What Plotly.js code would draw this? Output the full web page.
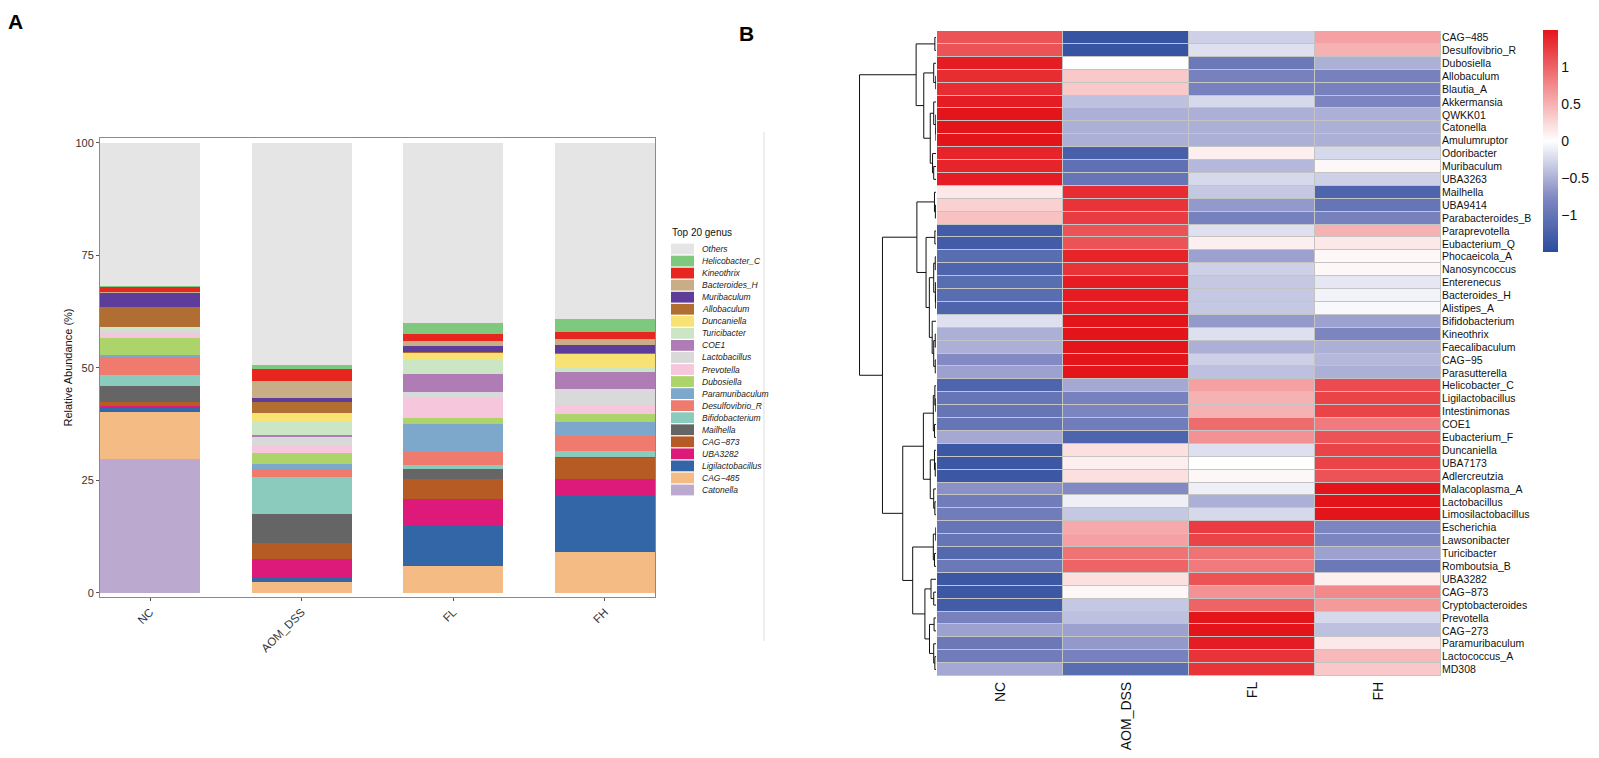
<!DOCTYPE html>
<html><head><meta charset="utf-8">
<script src="https://cdn.plot.ly/plotly-3.0.1.min.js"></script>
<style>html,body{margin:0;padding:0;background:#fff;}#chart{width:1599px;height:758px;}</style>
</head><body><div id="chart"></div>
<script>
// ---------- Panel A data ----------
const groups = ['NC', 'AOM_DSS', 'FL', 'FH'];
// genera from bottom of the stack to the top
const genera = ['Catonella','CAG\u2212485','Ligilactobacillus','UBA3282','CAG\u2212873','Mailhella','Bifidobacterium','Desulfovibrio_R','Paramuribaculum','Dubosiella','Prevotella','Lactobacillus','COE1','Turicibacter','Duncaniella','Allobaculum','Muribaculum','Bacteroides_H','Kineothrix','Helicobacter_C','Others'];
const genusColors = ['#BBA9CF','#F4BB84','#3366A6','#DD197A','#B65B23','#656565','#8ACBBE','#EF7A6E','#7EA8CB','#ADD46B','#F6C6DD','#D9D9D9','#B07CB5','#CCE5C4','#F7E273','#B06E33','#5E3C99','#C9AD86','#E6261F','#7FC97F','#E5E5E5'];
const abundNC  = [29.7,10.5,0.9,0.5,0.9,3.5,2.4,4.1,0.4,3.8,1.0,0.9,0.1,0.1,0.3,4.4,3.1,0.3,1.2,0.2,31.7];
const abundAOM = [0.0,2.5,1.0,4.1,3.4,6.5,8.3,1.8,1.1,2.5,1.5,2.0,0.3,3.1,2.0,2.4,0.9,3.8,2.6,0.9,49.3];
const abundFL  = [0.0,6.0,8.9,5.9,4.5,2.3,0.8,2.9,6.3,1.2,4.5,1.4,3.9,3.2,1.6,0.1,1.3,1.1,1.7,2.4,40.0];
const abundFH  = [0.0,9.0,12.6,3.7,4.8,0.2,1.3,3.3,3.1,1.8,1.9,3.7,3.6,0.9,3.3,0.1,1.7,1.5,1.4,3.0,39.1];
const yTicksA = [0, 25, 50, 75, 100];

// ---------- Panel B data ----------
const heatRows = ['CAG\u2212485','Desulfovibrio_R','Dubosiella','Allobaculum','Blautia_A','Akkermansia','QWKK01','Catonella','Amulumruptor','Odoribacter','Muribaculum','UBA3263','Mailhella','UBA9414','Parabacteroides_B','Paraprevotella','Eubacterium_Q','Phocaeicola_A','Nanosyncoccus','Enterenecus','Bacteroides_H','Alistipes_A','Bifidobacterium','Kineothrix','Faecalibaculum','CAG\u221295','Parasutterella','Helicobacter_C','Ligilactobacillus','Intestinimonas','COE1','Eubacterium_F','Duncaniella','UBA7173','Adlercreutzia','Malacoplasma_A','Lactobacillus','Limosilactobacillus','Escherichia','Lawsonibacter','Turicibacter','Romboutsia_B','UBA3282','CAG\u2212873','Cryptobacteroides','Prevotella','CAG\u2212273','Paramuribaculum','Lactococcus_A','MD308'];
const zNC  = [1.1,1.1,1.45,1.35,1.35,1.45,1.5,1.5,1.5,1.4,1.4,1.45,0.15,0.3,0.4,-1.3,-1.3,-1.1,-1.2,-1.1,-1.1,-1.2,-0.2,-0.5,-0.5,-0.75,-0.6,-1.2,-1.0,-1.0,-1.0,-0.55,-1.35,-1.35,-1.35,-0.7,-0.9,-0.9,-1.0,-1.0,-1.15,-0.95,-1.35,-1.35,-1.3,-0.85,-0.6,-0.95,-0.9,-0.55];
const zAOM = [-1.4,-1.4,0.0,0.35,0.35,-0.4,-0.5,-0.5,-0.5,-1.25,-1.05,-1.0,1.35,1.3,1.25,1.1,1.1,1.4,1.3,1.45,1.45,1.45,1.5,1.5,1.5,1.5,1.5,-0.55,-0.85,-0.8,-0.9,-1.2,0.2,0.1,0.2,-0.75,-0.1,-0.35,0.55,0.6,0.9,1.0,0.2,0.05,-0.35,-0.4,-0.6,-0.65,-0.85,-1.1];
const zFL  = [-0.3,-0.2,-0.95,-0.85,-0.85,-0.25,-0.5,-0.5,-0.5,0.1,-0.45,-0.25,-0.35,-0.65,-0.85,-0.2,0.1,-0.6,-0.3,-0.35,-0.35,-0.35,-0.65,-0.2,-0.5,-0.3,-0.4,0.6,0.5,0.5,0.95,0.7,-0.2,0.0,0.05,-0.1,-0.5,-0.25,1.25,1.2,0.9,0.85,1.1,0.7,1.0,1.5,1.5,1.45,1.3,1.3];
const zFH  = [0.6,0.5,-0.5,-0.85,-0.85,-0.8,-0.5,-0.5,-0.5,-0.25,0.05,-0.3,-1.2,-1.0,-0.85,0.5,0.15,0.05,0.05,-0.15,-0.08,-0.04,-0.6,-0.8,-0.5,-0.45,-0.5,1.15,1.2,1.2,0.85,1.1,1.2,1.2,1.1,1.5,1.5,1.5,-0.8,-0.8,-0.6,-0.95,0.1,0.75,0.65,-0.25,-0.4,0.15,0.45,0.35];
const cbTicks = [-1, -0.5, 0, 0.5, 1];
// row dendrogram: [height, left, right]; leaves are row indices
const rowTree = [10.0,
  [2.6,
    [0.15, 0, 1],
    [1.6,
      [0.3, 2, [0.03, 3, 4]],
      [0.75, [0.3, 5, [0.03, 6, [0.01, 7, 8]]], [0.45, 9, [0.3, 10, 11]]]
    ]
  ],
  [7.0,
    [2.5,
      [0.2, 12, [0.08, 13, 14]],
      [1.3,
        [0.15, 15, 16],
        [0.87, [0.3, [0.1, 17, 18], [0.08, 19, [0.04, 20, 21]]], [0.5, 22, [0.3, [0.1, 23, 24], [0.1, 25, 26]]]]
      ]
    ],
    [4.35,
      [1.65,
        [0.35, [0.15, 27, [0.03, 28, 29]], [0.2, 30, 31]],
        [0.75, [0.2, 32, [0.1, 33, 34]], [0.3, 35, [0.15, 36, 37]]]
      ],
      [3.05,
        [0.35, [0.03, 38, 39], [0.2, 40, 41]],
        [1.45,
          [0.65, 42, [0.3, 43, 44]],
          [0.85, [0.25, 45, 46], [0.3, 47, [0.15, 48, 49]]]
        ]
      ]
    ]
  ]
];

// ---------- build ----------
const W = 1599, H = 758;
const px = v => v / W, py = v => 1 - v / H;
const FONT = 'Liberation Sans, Arial, Helvetica, sans-serif';
const HM_TOP = 31, HM_BOT = 676;

const abundByGroup = [abundNC, abundAOM, abundFL, abundFH];
const traces = [];
genera.forEach((g, i) => {
  traces.push({
    type: 'bar', x: groups, y: abundByGroup.map(a => a[i]), name: g,
    marker: {color: genusColors[i], line: {width: 0}},
    xaxis: 'x', yaxis: 'y', showlegend: false, hoverinfo: 'name+y'
  });
});

const zMatrix = heatRows.map((_, i) => [zNC[i], zAOM[i], zFL[i], zFH[i]]);
traces.push({
  type: 'heatmap', x: groups, y: heatRows, z: zMatrix,
  xaxis: 'x2', yaxis: 'y2', zmin: -1.5, zmax: 1.5, xgap: 1, ygap: 1,
  colorscale: [[0, '#2A4C9D'], [0.25, '#8389C3'], [0.5, '#FFFFFF'], [0.75, '#F28A8C'], [1, '#E4141B']],
  colorbar: {
    x: px(1543), xanchor: 'left', xref: 'paper', xpad: 0,
    y: py(30), yanchor: 'top', ypad: 0, len: 222 / H, lenmode: 'fraction',
    thickness: 15, outlinewidth: 0, ticks: '', tickvals: cbTicks,
    tickfont: {family: FONT, size: 14, color: '#111'}
  }
});

// dendrogram segments
const dx = [], dy = [];
function walk(node) {
  if (typeof node === 'number') return {h: 0, y: node};
  const a = walk(node[1]), b = walk(node[2]);
  const h = node[0];
  dx.push(a.h, h, h, b.h, null);
  dy.push(a.y, a.y, b.y, b.y, null);
  return {h: h, y: (a.y + b.y) / 2};
}
walk(rowTree);
traces.push({
  type: 'scatter', mode: 'lines', x: dx, y: dy, xaxis: 'x3', yaxis: 'y3',
  line: {color: '#111', width: 1}, hoverinfo: 'skip', showlegend: false
});

// legend (custom, ggplot-like)
const shapes = [], annotations = [];
const legTop = 249, legStep = 12.05;
const legOrder = genera.map((g, i) => i).reverse();
legOrder.forEach((gi, k) => {
  const c = legTop + k * legStep;
  shapes.push({type: 'rect', xref: 'paper', yref: 'paper', x0: px(671), x1: px(694),
    y0: py(c - 5.4), y1: py(c + 5.4), fillcolor: genusColors[gi], line: {width: 0}});
  annotations.push({xref: 'paper', yref: 'paper', x: px(700), y: py(c), xanchor: 'left', yanchor: 'middle',
    text: genera[gi], showarrow: false, font: {family: FONT, size: 8.5, color: '#222', style: 'italic'}});
});
annotations.push({xref: 'paper', yref: 'paper', x: px(670), y: py(232), xanchor: 'left', yanchor: 'middle',
  text: 'Top 20 genus', showarrow: false, font: {family: FONT, size: 10, color: '#111'}});
annotations.push({xref: 'paper', yref: 'paper', x: px(6), y: py(22), xanchor: 'left', yanchor: 'middle',
  text: '<b>A</b>', showarrow: false, font: {family: FONT, size: 21, color: '#000'}});
annotations.push({xref: 'paper', yref: 'paper', x: px(737), y: py(33), xanchor: 'left', yanchor: 'middle',
  text: '<b>B</b>', showarrow: false, font: {family: FONT, size: 21, color: '#000'}});

// separator line
shapes.push({type: 'line', xref: 'paper', yref: 'paper', x0: px(764), x1: px(764), y0: py(132), y1: py(641),
  line: {color: '#DDDDDD', width: 1}});
// heatmap cell border background
shapes.push({type: 'rect', xref: 'x2 domain', yref: 'y2 domain', x0: 0, x1: 1, y0: 0, y1: 1,
  fillcolor: '#C4C4C4', line: {width: 0}, layer: 'below'});

const layout = {
  width: W, height: H, margin: {l: 0, r: 0, t: 0, b: 0},
  paper_bgcolor: '#fff', plot_bgcolor: 'rgba(0,0,0,0)',
  barmode: 'stack', bargap: 0.338, showlegend: false,
  font: {family: FONT},
  xaxis: {
    domain: [px(100), px(655)], anchor: 'y', type: 'category', range: [-0.331, 3.331],
    showline: true, mirror: true, linecolor: '#8A8A8A', linewidth: 1,
    ticks: 'outside', ticklen: 3, tickcolor: '#555', tickangle: -45,
    tickfont: {family: FONT, size: 11.5, color: '#333'}, showgrid: false, zeroline: false
  },
  yaxis: {
    domain: [py(597), py(138)], anchor: 'x', range: [-0.9, 101.1], tickvals: yTicksA,
    showline: true, mirror: true, linecolor: '#8A8A8A', linewidth: 1,
    ticks: 'outside', ticklen: 3, tickcolor: '#555',
    tickfont: {family: FONT, size: 11, color: '#333'}, showgrid: false, zeroline: false,
    title: {text: 'Relative Abundance (%)', font: {family: FONT, size: 11, color: '#111'}, standoff: 0}
  },
  xaxis2: {
    domain: [px(937), px(1441)], anchor: 'y2', type: 'category', range: [-0.5, 3.5],
    ticks: '', tickangle: -90, ticklabelstandoff: 2, tickfont: {family: FONT, size: 14, color: '#111'},
    showgrid: false, zeroline: false, showline: false
  },
  yaxis2: {
    domain: [py(HM_BOT), py(HM_TOP)], anchor: 'x2', type: 'category', range: [49.5, -0.5], side: 'right',
    tickmode: 'linear', dtick: 1, ticks: '', tickfont: {family: FONT, size: 10.5, color: '#111'},
    showgrid: false, zeroline: false, showline: false
  },
  xaxis3: {domain: [px(858), px(936)], anchor: 'y3', range: [10.2, 0], visible: false},
  yaxis3: {domain: [py(HM_BOT), py(HM_TOP)], anchor: 'x3', range: [49.5, -0.5], visible: false},
  shapes: shapes, annotations: annotations
};

Plotly.newPlot('chart', traces, layout, {displayModeBar: false, staticPlot: true});
</script>
</body></html>
